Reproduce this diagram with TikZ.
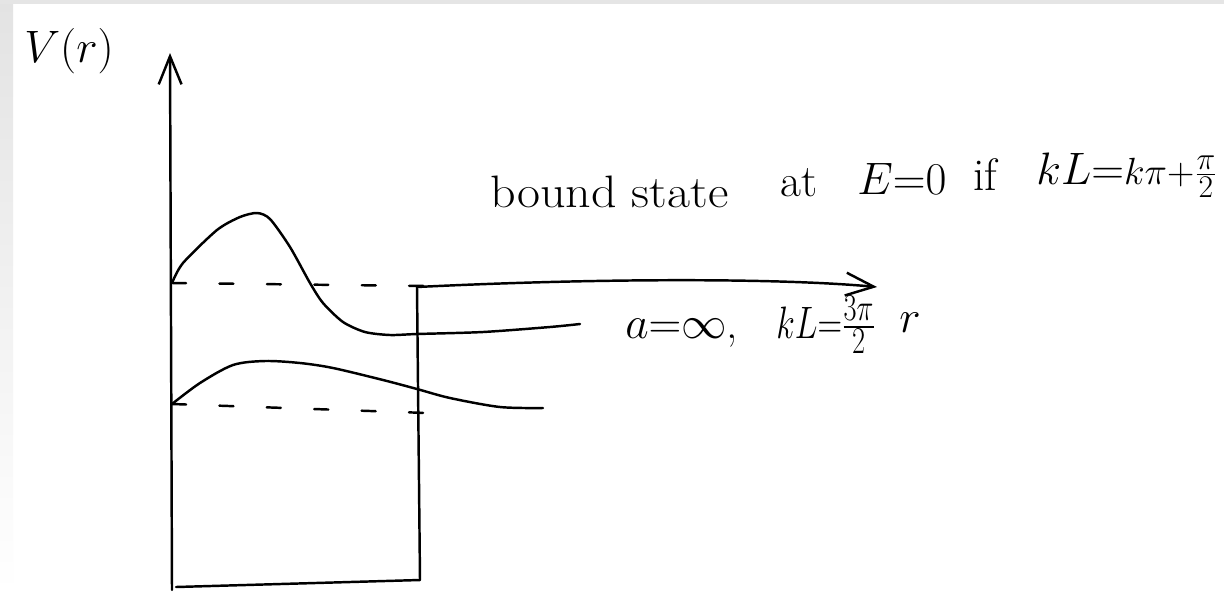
\documentclass[tikz,border=0pt]{standalone}
\usepackage{amsmath,amssymb}
\usepackage{xcolor}
\usepackage{tikz}
\usetikzlibrary{arrows.meta}

\tikzset{
  hand/.style={font=\Huge, scale=1.04, inner sep=0pt, anchor=base west},
  pen/.style={line width=1.4pt, line cap=round, line join=round},
  level/.style={pen, dash pattern=on 8pt off 19pt},
  barb/.style={-{Straight Barb[length=16pt, width=13pt]}},
}

\begin{document}
\begin{tikzpicture}[x=0.02cm, y=-0.02cm]
    % Frame
    \useasboundingbox (0,0) rectangle (1224,593);
    \fill[white] (0,0) rectangle (1224,593);
    \shade[top color=gray!22, bottom color=white] (0,0) rectangle (13,593);
    \fill[gray!20] (0,0) rectangle (1224,4);

    % Axis
    \coordinate (origin) at (172,590);
    \coordinate (vtop) at (170,53);
    \draw[pen, barb] (origin) -- (vtop);
    \node[hand] (vlab) at (24,62) {$V(r)$};

    % Well
    \coordinate (wallbot) at (420,580);
    \coordinate (walltop) at (417,287);
    \coordinate (rtip) at (877,287);
    \draw[pen] (176,587) -- (wallbot) -- (walltop);
    \draw[pen, barb] (walltop) .. controls (600,278) and (780,278) .. (rtip);
    \node[hand] (rlab) at (899,332) {$r$};

    % Levels
    \draw[level] (172,283) -- (427,286);
    \draw[level] (172,404) -- (427,413);

    % States
    \draw[pen] plot[smooth, tension=0.45] coordinates {(172,283) (183,263) (217,230) (240,217) (257,213) (270,219) (290,247)
        (310,283) (323,303) (343,322) (365,332) (390,335) (417,334) (483,332) (550,327) (580,324)};
    \draw[pen] plot[smooth] coordinates {(172,404) (200,383) (233,365) (265,361) (300,363) (333,368) (383,380)
        (417,389) (450,398) (500,407) (543,408)};

    % Labels
    \node[hand, xscale=1.1] (bound) at (490,207) {bound state};
    \node[hand] (at) at (780,196) {at};
    \node[hand] (ezero) at (857,194) {$E{=}0$};
    \node[hand] (cond) at (973,190) {if};
    \node[hand] (kl) at (1036,184) {$kL{=}{\scriptstyle k\pi+\frac{\pi}{2}}$};
    \node[hand] (alab) at (625,338) {$a{=}\infty$,};
    \node[hand, xscale=0.75] (klab) at (776,338) {$kL{=}\frac{3\pi}{2}$};
\end{tikzpicture}
\end{document}
